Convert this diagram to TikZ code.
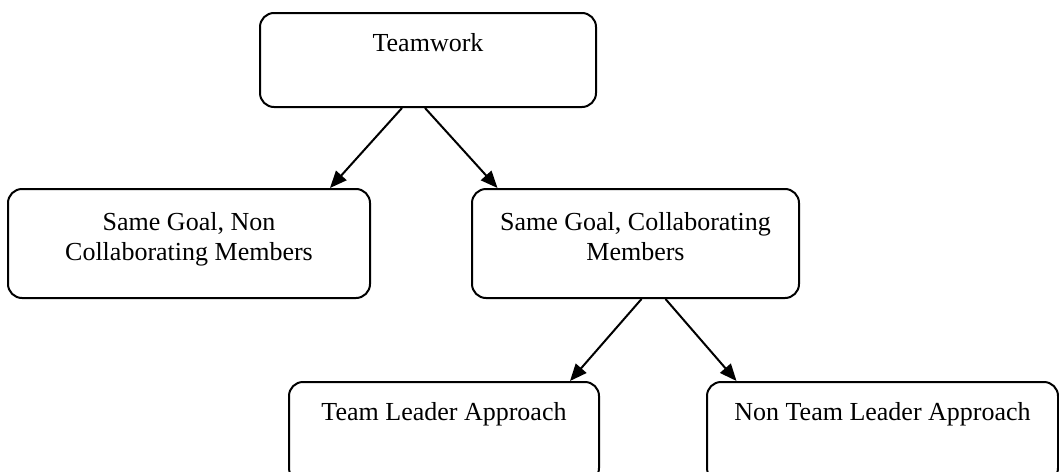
\documentclass[tikz,border=0pt]{standalone}
\usepackage{fontspec}
\setmainfont{Liberation Serif}
\usetikzlibrary{arrows.meta}
\tikzset{
  box/.style    = {shape=rectangle, rounded corners=7pt, draw,
                   line width=1pt, inner sep=0pt, align=center,
                   font=\fontsize{13pt}{15pt}\selectfont},
  toplevel/.style = {box, minimum width=168pt,
                     text height=19pt, text depth=28pt},
  midlevel/.style = {box, text height=35.5pt, text depth=19pt},
  lowlevel/.style = {box, text height=19pt, text depth=31pt}
}

\begin{document}
\begin{tikzpicture}
  [
    x = 0.5pt, y = -0.5pt,
    link/.style = {draw, line width=1pt, -{Triangle[length=8.5pt,width=7pt]}}
  ]
  \useasboundingbox (0,0) rectangle (1059,471);

  \node [toplevel] (team) at (428,60) {Teamwork};
  \node [midlevel, minimum width=181pt] (noncollab) at (189,243.5)
    {Same Goal, Non\\Collaborating Members};
  \node [midlevel, minimum width=163.5pt] (collab) at (635.5,243.5)
    {Same Goal, Collaborating\\Members};
  \node [lowlevel, minimum width=155pt] (leader) at (444,432)
    {Team Leader Approach};
  \node [lowlevel, minimum width=175.5pt] (noleader) at (882.5,432)
    {Non Team Leader Approach};

  \draw [link] ([xshift=-13pt]team.south) -- ([xshift=70.5pt]noncollab.north);
  \draw [link] ([xshift=-1.5pt]team.south) -- ([xshift=-69pt]collab.north);
  \draw [link] ([xshift=3pt]collab.south) -- ([xshift=63pt]leader.north);
  \draw [link] ([xshift=15pt]collab.south) -- ([xshift=-73pt]noleader.north);
\end{tikzpicture}
\end{document}
